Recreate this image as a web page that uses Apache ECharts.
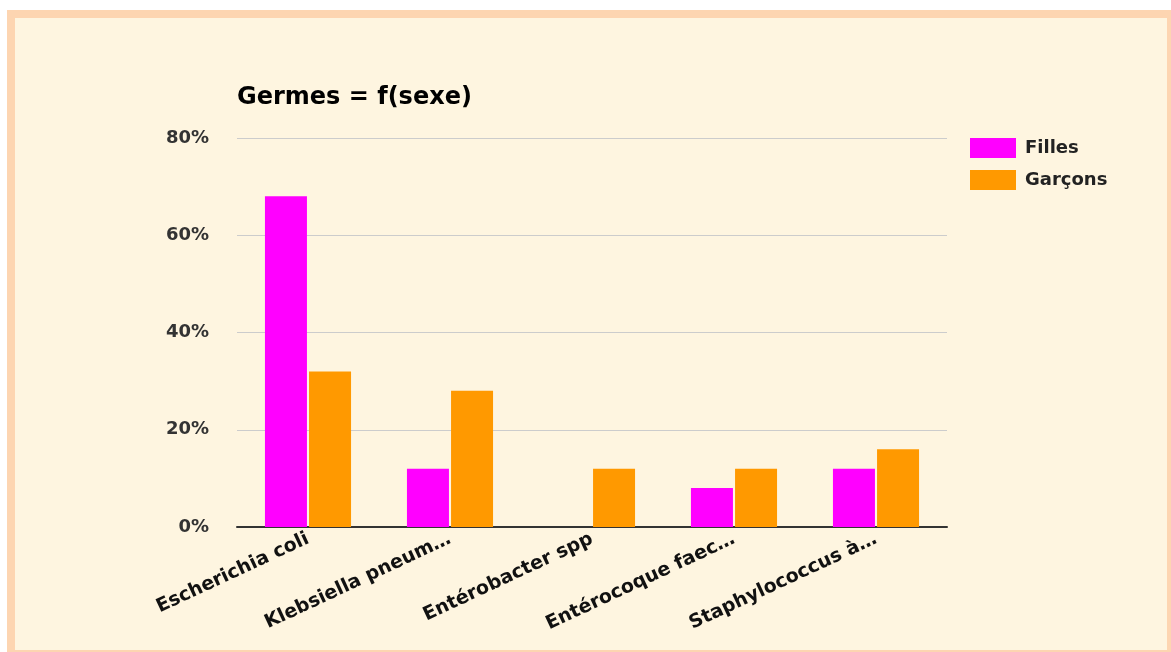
<!DOCTYPE html>
<html>
<head>
<meta charset="utf-8">
<script src="https://cdn.jsdelivr.net/npm/echarts@6/dist/echarts.min.js"></script>
<style>
  html, body { margin: 0; padding: 0; background: #ffffff; overflow: hidden; }
  #card {
    position: absolute; left: 7px; top: 10px; width: 1168px; height: 648px;
    box-sizing: border-box; border: 8px solid #fdd5b1; background: #fef5e0;
  }
  #chart { position: absolute; left: 0; top: 0; width: 1171px; height: 652px; }
</style>
</head>
<body>
<div id="card"></div>
<div id="chart"></div>
<script>
// Germs by sex (percentage of cases)
const categories = [
  'Escherichia coli',
  'Klebsiella pneum…',
  'Entérobacter spp',
  'Entérocoque faec…',
  'Staphylococcus à…'
];
const seriesNames = ['Filles', 'Garçons'];
const filles = [68, 12, 0, 8, 12];
const garcons = [32, 28, 12, 12, 16];
const yTicks = { min: 0, max: 80, interval: 20 };

const font = '"DejaVu Sans", "Liberation Sans", Arial, sans-serif';

const chart = echarts.init(document.getElementById('chart'), null, { renderer: 'canvas' });
chart.setOption({
  backgroundColor: 'transparent',
  animation: false,
  title: {
    text: 'Germes = f(sexe)',
    left: 232, top: 81,
    textStyle: { fontFamily: font, fontSize: 24, fontWeight: 'bold', color: '#000' }
  },
  legend: {
    data: seriesNames,
    orient: 'vertical',
    left: 965, top: 133,
    itemWidth: 46, itemHeight: 20, itemGap: 12,
    icon: 'rect',
    textStyle: { fontFamily: font, fontSize: 18, fontWeight: 'bold', color: '#222', padding: [0, 0, 0, 4] }
  },
  grid: { left: 237, right: 224, top: 138, bottom: 125, containLabel: false },
  xAxis: {
    type: 'category',
    data: categories,
    axisLine: { show: true, lineStyle: { color: '#333', width: 2 } },
    axisTick: { show: false },
    axisLabel: {
      interval: 0, rotate: 25, margin: 11,
      fontFamily: font, fontSize: 19, fontWeight: 'bold', color: '#111'
    }
  },
  yAxis: {
    type: 'value',
    min: yTicks.min, max: yTicks.max, interval: yTicks.interval,
    axisLine: { show: false },
    axisTick: { show: false },
    splitLine: { lineStyle: { color: '#cccccc', width: 1 } },
    axisLabel: {
      formatter: '{value}%', margin: 28,
      fontFamily: font, fontSize: 18, fontWeight: 'bold', color: '#333'
    }
  },
  series: [
    { name: seriesNames[0], type: 'bar', data: filles, barWidth: 42, barGap: '5%',
      itemStyle: { color: '#ff00ff' } },
    { name: seriesNames[1], type: 'bar', data: garcons, barWidth: 42, barGap: '5%',
      itemStyle: { color: '#ff9900' } }
  ]
});
</script>
</body>
</html>
